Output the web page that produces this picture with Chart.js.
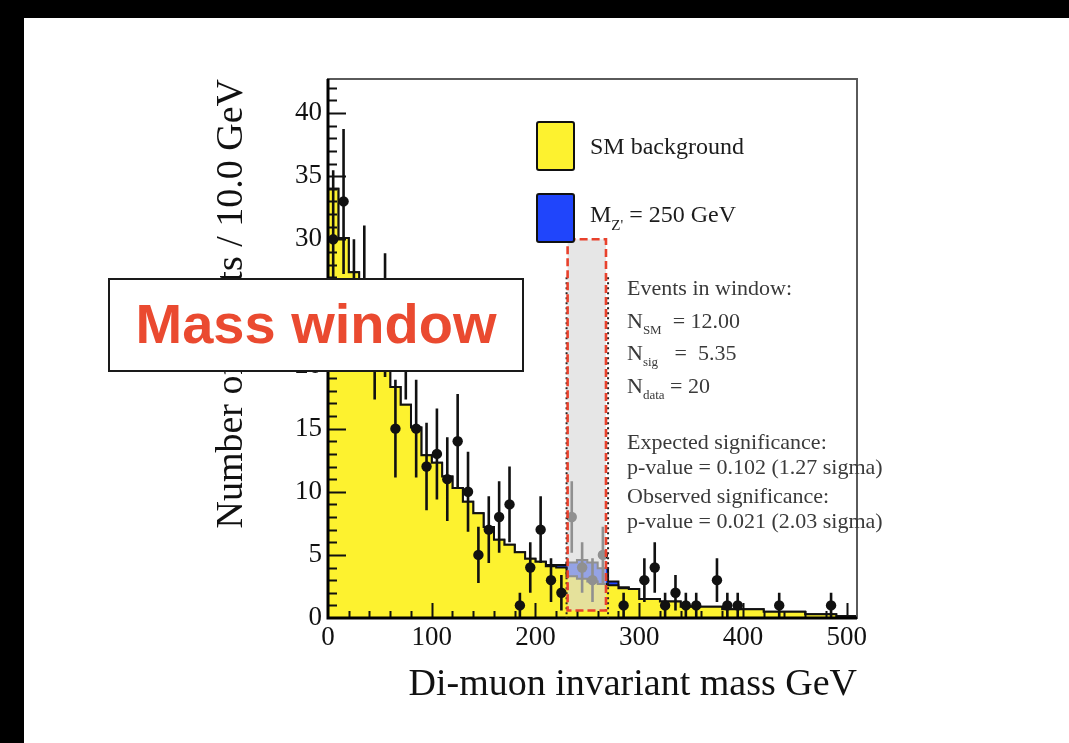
<!DOCTYPE html>
<html>
<head>
<meta charset="utf-8">
<script src="https://cdn.jsdelivr.net/npm/chart.js@4.4.0/dist/chart.umd.min.js"></script>
<style>
  body { margin:0; width:1069px; height:743px; background:#000; overflow:hidden; position:relative; font-family:'Liberation Serif', 'Times New Roman', serif; }
  #hoja { position:absolute; left:24px; top:18px; right:0; bottom:0; background:#fff; }
  #grafico { position:absolute; left:0; top:0; }
  .caja { position:absolute; left:536px; width:39px; height:50px; box-sizing:border-box; border:2px solid #111; border-radius:3px; }
  .txt { position:absolute; white-space:nowrap; line-height:1; }
  .ley { left:590px; font-size:24px; color:#1c1c1c; }
  .info { left:627px; font-size:22px; color:#3a3a3a; }
  .info sub { font-size:13px; vertical-align:-6px; }
  .ley sub { font-size:15px; vertical-align:-8px; }
  #ventana { position:absolute; left:108px; top:278px; width:416px; height:94px; box-sizing:border-box; border:2.5px solid #1a1a1a; background:#fff;
             font-family:'Liberation Sans', Arial, sans-serif; font-weight:bold; font-size:56px; color:#ea4a30; text-align:center; line-height:88px; }
</style>
</head>
<body>
<div id="hoja"></div>
<canvas id="grafico" width="1069" height="743"></canvas>

<div class="caja" style="top:121px;background:#fdf22f"></div>
<div class="caja" style="top:193px;background:#2045fb"></div>
<div class="txt ley" style="top:134px">SM background</div>
<div class="txt ley" style="top:202px">M<sub>Z'</sub> = 250 GeV</div>

<div class="txt info" style="top:277px">Events in window:</div>
<div class="txt info" style="top:310px">N<sub>SM</sub> &nbsp;= 12.00</div>
<div class="txt info" style="top:342px">N<sub>sig</sub> &nbsp; = &nbsp;5.35</div>
<div class="txt info" style="top:375px">N<sub>data</sub> = 20</div>
<div class="txt info" style="top:431px">Expected significance:</div>
<div class="txt info" style="top:456px">p-value = 0.102 (1.27 sigma)</div>
<div class="txt info" style="top:485px">Observed significance:</div>
<div class="txt info" style="top:510px">p-value = 0.021 (2.03 sigma)</div>

<div id="ventana">Mass window</div>

<script>
// bordes de bin (GeV), 10 GeV por bin
const binEdges = [0,10,20,30,40,50,60,70,80,90,100,110,120,130,140,150,160,170,180,190,200,
  210,220,230,240,250,260,270,280,290,300,310,320,330,340,350,360,370,380,390,400,
  410,420,430,440,450,460,470,480,490,500,510];

// fondo SM por bin
const smBackground = [34,30.1,27.4,25,23,20.8,18.3,16.9,15.1,12.9,12.3,11.2,10.3,9.2,8.3,7.2,6.2,5.8,5.2,4.7,
  4.45,4.1,4.0,3.3,3.1,2.9,2.7,2.6,2.35,2.3,1.5,1.5,1.3,1.3,0.9,0.9,0.9,0.9,0.7,0.7,
  0.7,0.7,0.5,0.5,0.5,0.5,0.3,0.3,0.3,0.16,0.16];

// señal Z' (M = 250 GeV) apilada encima
const zPrimeSignal = [0,0,0,0,0,0,0,0,0,0,0,0,0,0,0,0,0,0,0,0,
  0,0.1,0.2,1.1,1.5,1.5,1.25,0.3,0.08,0,0,0,0,0,0,0,0,0,0,0,
  0,0,0,0,0,0,0,0,0,0,0];

// eventos observados por bin
const dataCounts = [30,33,25,26,22,24,15,22,15,12,13,11,14,10,5,7,8,9,1,4,
  7,3,2,8,4,3,5,0,1,0,3,4,1,2,1,1,0,3,1,1,
  0,0,0,1,0,0,0,0,1,0,0];

const xTickValues = [0,100,200,300,400,500];
const yTickValues = [0,5,10,15,20,25,30,35,40];
const massWindow = [230, 270];
const windowBoxX = [231, 268];
const windowBoxY = [0.6, 30];

const AMARILLO = '#fdf22f';
const AZUL = '#2045fb';
const SERIF = "'Liberation Serif', 'Times New Roman', serif";

function escalon(valores) {
  return binEdges.map((x, i) => ({x, y: valores[Math.min(i, valores.length - 1)]}));
}

const total = smBackground.map((b, i) => b + zPrimeSignal[i]);
const puntos = [];
dataCounts.forEach((n, i) => {
  if (n > 0) puntos.push({x: (binEdges[i] + binEdges[i + 1]) / 2, y: n});
});

const barrasError = {
  id: 'barrasError',
  beforeDatasetDraw(chart, args) {
    if (args.index !== 2) return;
    const {ctx, scales: {x, y}} = chart;
    ctx.save();
    ctx.strokeStyle = '#111';
    ctx.lineWidth = 2.6;
    ctx.beginPath();
    puntos.forEach(p => {
      const e = Math.sqrt(p.y);
      const px = x.getPixelForValue(p.x);
      ctx.moveTo(px, y.getPixelForValue(Math.max(0, p.y - e)));
      ctx.lineTo(px, y.getPixelForValue(p.y + e));
    });
    ctx.stroke();
    ctx.restore();
  }
};

const marcasEjes = {
  id: 'marcasEjes',
  afterDatasetsDraw(chart) {
    const {ctx, chartArea: a, scales: {x, y}} = chart;
    ctx.save();
    ctx.strokeStyle = '#111';
    ctx.lineWidth = 2;
    ctx.beginPath();
    for (let v = 1; v <= 42; v++) {
      const py = Math.round(y.getPixelForValue(v)) + 0.5;
      ctx.moveTo(a.left, py);
      ctx.lineTo(a.left + (v % 5 === 0 ? 18 : 9), py);
    }
    for (let v = 20; v <= 500; v += 20) {
      const px = Math.round(x.getPixelForValue(v)) + 0.5;
      ctx.moveTo(px, a.bottom);
      ctx.lineTo(px, a.bottom - (v % 100 === 0 ? 15 : 7));
    }
    ctx.stroke();
    ctx.strokeStyle = '#5a5a5a';
    ctx.lineWidth = 2;
    ctx.strokeRect(a.left, a.top, a.width, a.height);
    ctx.strokeStyle = '#000';
    ctx.lineWidth = 3;
    ctx.beginPath();
    ctx.moveTo(a.left, a.top); ctx.lineTo(a.left, a.bottom); ctx.lineTo(a.right, a.bottom);
    ctx.stroke();
    ctx.restore();
  }
};

const ventanaMasa = {
  id: 'ventanaMasa',
  afterDatasetsDraw(chart) {
    const {ctx, scales: {x, y}} = chart;
    const x0 = x.getPixelForValue(windowBoxX[0]), x1 = x.getPixelForValue(windowBoxX[1]);
    const y0 = y.getPixelForValue(windowBoxY[1]), y1 = y.getPixelForValue(windowBoxY[0]);
    ctx.save();
    ctx.fillStyle = 'rgba(216,216,216,0.64)';
    ctx.fillRect(x0, y0, x1 - x0, y1 - y0);
    // líneas punteadas de la ventana
    ctx.strokeStyle = '#222';
    ctx.lineWidth = 2;
    ctx.setLineDash([2, 3]);
    ctx.beginPath();
    massWindow.forEach(m => {
      const px = x.getPixelForValue(m);
      ctx.moveTo(px, y.getPixelForValue(27));
      ctx.lineTo(px, y.getPixelForValue(0));
    });
    ctx.stroke();
    ctx.strokeStyle = '#e8412c';
    ctx.lineWidth = 2.6;
    ctx.setLineDash([8, 4]);
    ctx.strokeRect(x0, y0, x1 - x0, y1 - y0);
    ctx.restore();
  }
};

const ctx = document.getElementById('grafico').getContext('2d');
new Chart(ctx, {
  data: {
    datasets: [
      {type: 'line', label: 'total', data: escalon(total), stepped: true, fill: 'origin',
       backgroundColor: AZUL, borderColor: '#111', borderWidth: 2, pointRadius: 0, order: 3},
      {type: 'line', label: 'SM background', data: escalon(smBackground), stepped: true, fill: 'origin',
       backgroundColor: AMARILLO, borderColor: '#111', borderWidth: 2, pointRadius: 0, order: 2},
      {type: 'scatter', label: 'data', data: puntos, pointRadius: 5.2, pointBackgroundColor: '#111',
       pointBorderColor: '#111', pointBorderWidth: 0, order: 1}
    ]
  },
  options: {
    responsive: false,
    animation: false,
    layout: {padding: {left: 0, top: 79, right: 212, bottom: 0}},
    plugins: {legend: {display: false}, tooltip: {enabled: false}},
    scales: {
      x: {
        type: 'linear', position: 'bottom', min: 0, max: 510,
        afterFit: s => { s.height = 125; },
        afterBuildTicks: s => { s.ticks = xTickValues.map(v => ({value: v})); },
        grid: {display: false, drawTicks: false},
        border: {display: false},
        ticks: {font: {family: SERIF, size: 27}, color: '#111', padding: 4, maxRotation: 0, autoSkip: false},
        title: {display: true, text: 'Di-muon invariant mass GeV', align: 'end', color: '#111',
                font: {family: SERIF, size: 38}, padding: {top: 0, bottom: 35}}
      },
      y: {
        type: 'linear', min: 0, max: 42.7,
        afterFit: s => { s.width = 328; },
        afterBuildTicks: s => { s.ticks = yTickValues.map(v => ({value: v})); },
        grid: {display: false, drawTicks: false},
        border: {display: false},
        ticks: {font: {family: SERIF, size: 27}, color: '#111', padding: 6},
        title: {display: true, text: 'Number of events / 10.0 GeV', align: 'end', color: '#111',
                font: {family: SERIF, size: 38}, padding: {top: 209, bottom: 0}}
      }
    }
  },
  plugins: [barrasError, marcasEjes, ventanaMasa]
});
</script>
</body>
</html>
